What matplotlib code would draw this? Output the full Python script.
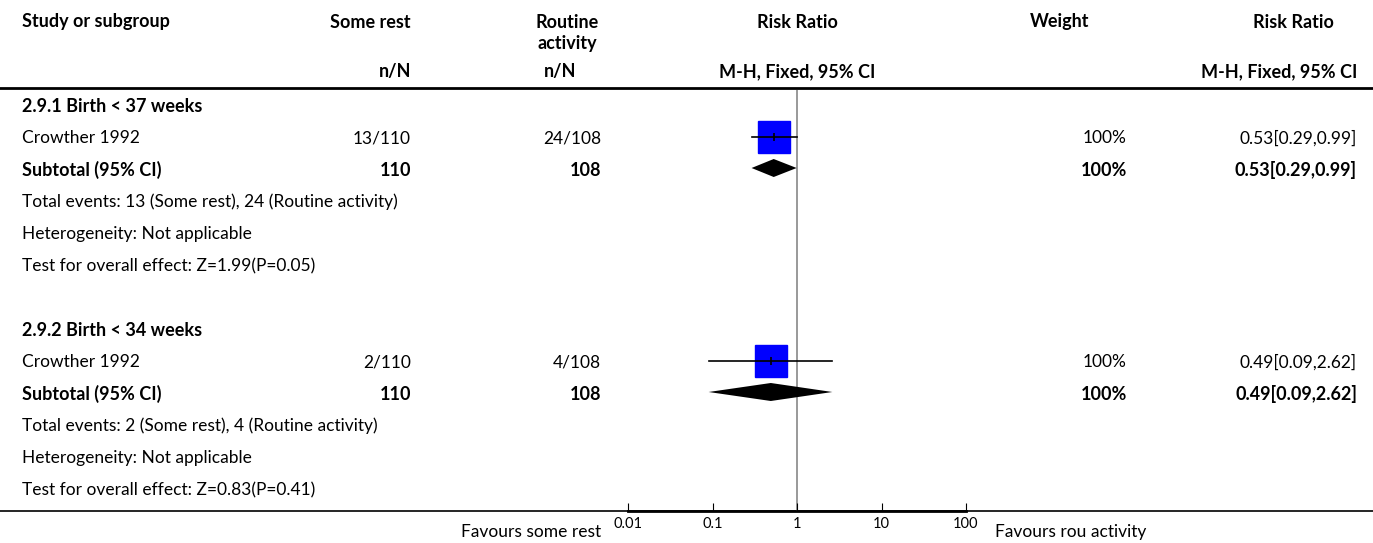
import numpy as np
import matplotlib
matplotlib.use("Agg")
import matplotlib.pyplot as plt

plt.rcParams['font.family'] = ['Lato', 'DejaVu Sans']

# ---- data ----
group_titles = ["2.9.1 Birth < 37 weeks", "2.9.2 Birth < 34 weeks"]
study_names = ["Crowther 1992", "Crowther 1992"]
rest_events = [13, 2]
rest_total = [110, 110]
routine_events = [24, 4]
routine_total = [108, 108]
rr_est = [0.53, 0.49]
rr_lo = [0.29, 0.09]
rr_hi = [0.99, 2.62]
weights = [100, 100]
z_values = [1.99, 0.83]
p_values = [0.05, 0.41]
tick_values = [0.01, 0.1, 1, 10, 100]
tick_labels = ["0.01", "0.1", "1", "10", "100"]

W, H = 1373, 543
FS = 12.5     # normal text
FB = 13       # bold text
fig = plt.figure(figsize=(W / 100, H / 100), dpi=100)

# background axes in pixel coordinates for the table
ax = fig.add_axes([0, 0, 1, 1])
ax.set_xlim(0, W)
ax.set_ylim(H, 0)
ax.axis('off')

# forest axes (log scale) sharing the same pixel rows
x0, x1 = 628, 966
fax = fig.add_axes([x0 / W, 0, (x1 - x0) / W, 1])
fax.set_xscale('log')
fax.set_xlim(0.01, 100)
fax.set_ylim(H, 0)
fax.patch.set_visible(False)
for s in ['top', 'left', 'right']:
    fax.spines[s].set_visible(False)
fax.spines['bottom'].set_position(('data', 511))
fax.spines['bottom'].set_linewidth(2)
fax.set_yticks([])
fax.set_xticks(tick_values)
fax.set_xticklabels(tick_labels)
fax.xaxis.set_minor_locator(matplotlib.ticker.NullLocator())
fax.tick_params(axis='x', direction='in', length=6, width=0.8, labelsize=10.5, pad=4)


def bold(x, y, s, ha='left'):
    ax.text(x, y, s, fontsize=FB, fontweight='bold', va='center', ha=ha)


def plain(x, y, s, ha='left'):
    ax.text(x, y, s, fontsize=FS, va='center', ha=ha)


# header
hy1, hy2, hy3 = 22, 43, 72
bold(22, hy1, "Study or subgroup")
bold(411, hy1, "Some rest", 'right')
bold(567, hy1, "Routine", 'center')
bold(567, hy2, "activity", 'center')
bold(797, hy1, "Risk Ratio", 'center')
bold(1060, hy1, "Weight", 'center')
bold(1293, hy1, "Risk Ratio", 'center')
bold(411, hy3, "n/N", 'right')
bold(576, hy3, "n/N", 'right')
bold(797, hy3, "M-H, Fixed, 95% CI", 'center')
bold(1357, hy3, "M-H, Fixed, 95% CI", 'right')
ax.plot([0, W], [88, 88], color='black', lw=2)

# rows
step = 32
for g in range(len(group_titles)):
    y = 106 + g * 224
    bold(22, y, group_titles[g])
    # study row
    ys = y + step
    ci_txt = f"{rr_est[g]:.2f}[{rr_lo[g]:.2f},{rr_hi[g]:.2f}]"
    plain(22, ys, study_names[g])
    plain(411, ys, f"{rest_events[g]}/{rest_total[g]}", 'right')
    plain(601, ys, f"{routine_events[g]}/{routine_total[g]}", 'right')
    plain(1127, ys, f"{weights[g]}%", 'right')
    plain(1357, ys, ci_txt, 'right')
    fax.plot([rr_lo[g], rr_hi[g]], [ys - 1, ys - 1], color='black', lw=1.2, zorder=3)
    fax.plot([rr_est[g]], [ys - 1], marker='s', color='#0000ff', markersize=22.5 * weights[g] / 100,
             linestyle='none', zorder=2)
    fax.plot([rr_est[g]], [ys - 1], marker='|', color='black', markersize=6, mew=1.2,
             linestyle='none', zorder=4)
    # subtotal row
    yt = y + 2 * step
    bold(22, yt, "Subtotal (95% CI)")
    bold(411, yt, f"{rest_total[g]}", 'right')
    bold(601, yt, f"{routine_total[g]}", 'right')
    bold(1127, yt, f"{weights[g]}%", 'right')
    bold(1357, yt, ci_txt, 'right')
    dy = yt - 2
    fax.fill([rr_lo[g], rr_est[g], rr_hi[g], rr_est[g]], [dy, dy - 9, dy, dy + 9],
             color='black', lw=0, zorder=3)
    # notes
    plain(22, y + 3 * step,
          f"Total events: {rest_events[g]} (Some rest), {routine_events[g]} (Routine activity)")
    plain(22, y + 4 * step, "Heterogeneity: Not applicable")
    plain(22, y + 5 * step, f"Test for overall effect: Z={z_values[g]:.2f}(P={p_values[g]:.2f})")

# line of no effect
fax.vlines(1, 90, 511, color='#999999', lw=1.4, zorder=1)

# bottom line and favours labels
ax.plot([0, W], [511, 511], color='black', lw=1.2)
plain(601, 532, "Favours some rest", 'right')
plain(995, 532, "Favours rou activity")

fig.savefig("out.png", dpi=100)
